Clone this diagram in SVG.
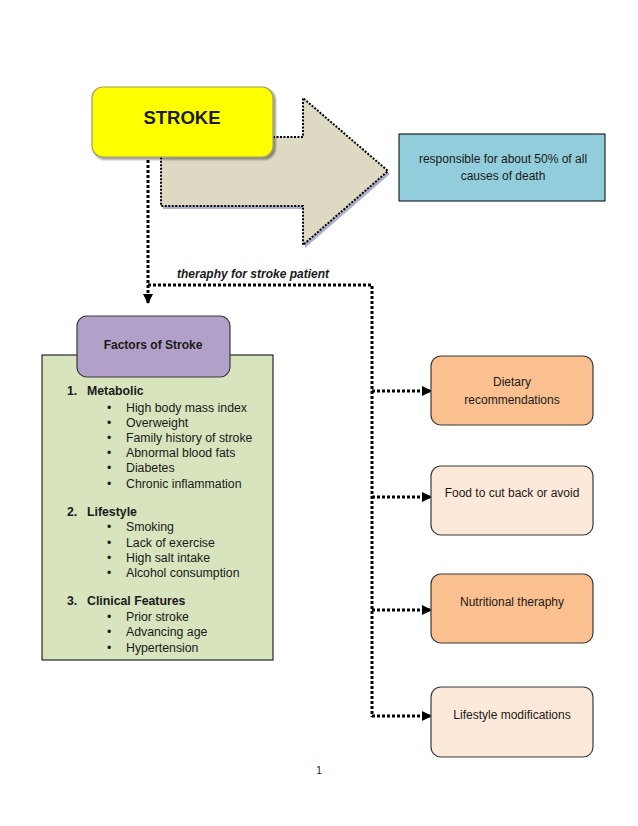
<svg xmlns="http://www.w3.org/2000/svg" width="638" height="826" viewBox="0 0 638 826">
<defs>
<style>
text{font-family:"Liberation Sans",Arial,sans-serif;fill:#1a1a1a}
.dot{fill:none;stroke:#000;stroke-width:3;stroke-dasharray:3 2}
.box{stroke:#3a3a3a;stroke-width:1.2}
.li{font-size:12.3px}
.hd{font-size:12.3px;font-weight:bold}
.c{text-anchor:middle;font-size:12px}
</style>
<marker id="ah" viewBox="0 0 10 10" refX="9" refY="5" markerWidth="10" markerHeight="10" markerUnits="userSpaceOnUse" orient="auto">
<path d="M0,0 L10,5 L0,10 Z" fill="#000"/>
</marker>
<filter id="sh" x="-10%" y="-10%" width="130%" height="130%">
<feGaussianBlur in="SourceAlpha" stdDeviation="1.2"/>
<feOffset dx="2" dy="2"/>
<feComponentTransfer><feFuncA type="linear" slope="0.45"/></feComponentTransfer>
<feMerge><feMergeNode/><feMergeNode in="SourceGraphic"/></feMerge>
</filter>
</defs>
<rect width="638" height="826" fill="#fff"/>

<g id="arrow">
<path d="M161,137 L303,137 L303,98 L388,171 L303,245 L303,206 L161,206 Z" fill="#8a8fb8" transform="translate(2,3)" opacity="0.7"/>
<path d="M161,137 L303,137 L303,98 L388,171 L303,245 L303,206 L161,206 Z" fill="#DDD9C3" stroke="#000" stroke-width="2" stroke-dasharray="2 1.5"/>
</g>

<g id="stroke">
<rect x="92" y="87" width="181" height="70" rx="11" fill="#FFFF00" stroke="#a0a060" stroke-width="1.2" filter="url(#sh)"/>
<text x="182" y="124" text-anchor="middle" font-size="18.5" font-weight="bold">STROKE</text>
</g>

<g id="death">
<rect x="399" y="134" width="206" height="67" fill="#92CDDC" stroke="#000" stroke-width="1"/>
<text class="c" x="503" y="163" font-size="11">responsible for about 50% of all</text>
<text class="c" x="503" y="180" font-size="11">causes of death</text>
</g>

<g id="connectors">
<path class="dot" d="M148,160 L148,303" marker-end="url(#ah)"/>
<path class="dot" d="M148,285 L372,285 L372,717"/>
<path class="dot" d="M372,391 L431,391" marker-end="url(#ah)"/>
<path class="dot" d="M372,497 L431,497" marker-end="url(#ah)"/>
<path class="dot" d="M372,610 L431,610" marker-end="url(#ah)"/>
<path class="dot" d="M372,716 L431,716" marker-end="url(#ah)"/>
<text x="177" y="278" font-size="12" font-weight="bold" font-style="italic">theraphy for stroke patient</text>
</g>

<g id="factors-list">
<rect x="42" y="355" width="231" height="305" fill="#D7E4BD" stroke="#000" stroke-width="1"/>
<text class="hd" x="67" y="395">1.</text><text class="hd" x="87" y="395">Metabolic</text>
<g class="li">
<text x="107" y="412">•</text><text x="126" y="412">High body mass index</text>
<text x="107" y="427">•</text><text x="126" y="427">Overweight</text>
<text x="107" y="442">•</text><text x="126" y="442">Family history of stroke</text>
<text x="107" y="457">•</text><text x="126" y="457">Abnormal blood fats</text>
<text x="107" y="472">•</text><text x="126" y="472">Diabetes</text>
<text x="107" y="488">•</text><text x="126" y="488">Chronic inflammation</text>
</g>
<text class="hd" x="67" y="516">2.</text><text class="hd" x="87" y="516">Lifestyle</text>
<g class="li">
<text x="107" y="531">•</text><text x="126" y="531">Smoking</text>
<text x="107" y="547">•</text><text x="126" y="547">Lack of exercise</text>
<text x="107" y="562">•</text><text x="126" y="562">High salt intake</text>
<text x="107" y="577">•</text><text x="126" y="577">Alcohol consumption</text>
</g>
<text class="hd" x="67" y="605">3.</text><text class="hd" x="87" y="605">Clinical Features</text>
<g class="li">
<text x="107" y="621">•</text><text x="126" y="621">Prior stroke</text>
<text x="107" y="636">•</text><text x="126" y="636">Advancing age</text>
<text x="107" y="652">•</text><text x="126" y="652">Hypertension</text>
</g>
</g>

<g id="factors">
<rect x="77" y="316" width="153" height="61" rx="10" fill="#B1A0C7" stroke="#3a3a3a" stroke-width="1.2"/>
<text x="153" y="349" text-anchor="middle" font-size="12" font-weight="bold">Factors of Stroke</text>
</g>

<g id="dietary">
<rect class="box" x="431" y="356" width="162" height="69" rx="10" fill="#FAC090"/>
<text class="c" x="512" y="386">Dietary</text>
<text class="c" x="512" y="404">recommendations</text>
</g>
<g id="food">
<rect class="box" x="431" y="466" width="162" height="69" rx="10" fill="#FDE9D9"/>
<text class="c" x="512" y="497">Food to cut back or avoid</text>
</g>
<g id="nutritional">
<rect class="box" x="431" y="574" width="162" height="69" rx="10" fill="#FAC090"/>
<text class="c" x="512" y="606">Nutritional theraphy</text>
</g>
<g id="lifestyle">
<rect class="box" x="431" y="687" width="162" height="70" rx="10" fill="#FDE9D9"/>
<text class="c" x="512" y="719">Lifestyle modifications</text>
</g>

<text x="319" y="774" text-anchor="middle" font-size="10">1</text>
</svg>
